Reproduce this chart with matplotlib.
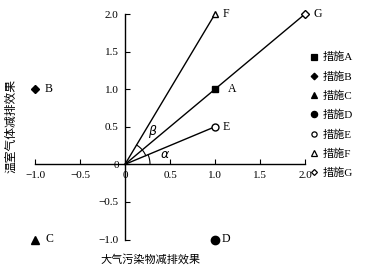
import numpy as np
import matplotlib
matplotlib.use("Agg")
import matplotlib.pyplot as plt
from matplotlib.lines import Line2D

plt.rcParams['font.family'] = ['Liberation Serif', 'Noto Sans CJK SC', 'DejaVu Sans']
plt.rcParams['axes.unicode_minus'] = True

names = ['A', 'B', 'C', 'D', 'E', 'F', 'G']
legend_labels = ['措施A', '措施B', '措施C', '措施D', '措施E', '措施F', '措施G']
x_vals = [1.0, -1.0, -1.0, 1.0, 1.0, 1.0, 2.0]
y_vals = [1.0, 1.0, -1.0, -1.0, 0.5, 2.0, 2.0]
markers = ['s', 'D', '^', 'o', 'o', '^', 'D']
filled = [True, True, True, True, False, False, False]
msizes = [5, 4.5, 6, 6, 5, 5, 4]
label_offsets_px = [(13, 0), (10, 0), (10, 0), (7, 0), (8, 0), (8, 0), (9, 0)]
rays = ['G', 'F', 'E']
xticks = [-1.0, -0.5, 0, 0.5, 1.0, 1.5, 2.0]
yticks = [-1.0, -0.5, 0, 0.5, 1.0, 1.5, 2.0]
tick_labels = ['\u22121.0', '\u22120.5', '0', '0.5', '1.0', '1.5', '2.0']

W, H = 365, 268
fig = plt.figure(figsize=(W / 100, H / 100), dpi=100)
ax_l, ax_r, ax_t, ax_b = 35, 305, 14, 239.5
ax = fig.add_axes([ax_l / W, (H - ax_b) / H, (ax_r - ax_l) / W, (ax_b - ax_t) / H])
ax.set_xlim(-1, 2)
ax.set_ylim(-1, 2)

for s in ['top', 'right']:
    ax.spines[s].set_visible(False)
ax.spines['left'].set_position(('data', 0))
ax.spines['bottom'].set_position(('data', 0))
for s in ['left', 'bottom']:
    ax.spines[s].set_linewidth(1.0)

ax.set_xticks(xticks)
ax.set_xticklabels(tick_labels)
ax.set_yticks(yticks)
ax.set_yticklabels(tick_labels)
ax.tick_params(direction='in', length=3.5, width=0.8, labelsize=8, pad=4.5)

# rays from the origin
for r in rays:
    i = names.index(r)
    ax.plot([0, x_vals[i]], [0, y_vals[i]], color='black', lw=1.0, zorder=2)

# angle arcs (computed in pixel space)
sx = (ax_r - ax_l) / 3.0
sy = (ax_b - ax_t) / 3.0
iE = names.index('E'); iF = names.index('F')
thE = np.arctan2(y_vals[iE] * sy, x_vals[iE] * sx)
thF = np.arctan2(y_vals[iF] * sy, x_vals[iF] * sx)
t = np.linspace(0, thE, 50)
ax.plot(25 * np.cos(t) / sx, 25 * np.sin(t) / sy, color='black', lw=0.8)
t = np.linspace(thE, thF, 50)
ax.plot(22.5 * np.cos(t) / sx, 22.5 * np.sin(t) / sy, color='black', lw=0.8)
ax.text(40 / sx, 9 / sy, r'$\alpha$', fontsize=9, ha='center', va='center')
ax.text(28 / sx, 33 / sy, r'$\beta$', fontsize=9, ha='center', va='center')

handles = []
for n, x, y, m, f, ms, off in zip(names, x_vals, y_vals, markers, filled, msizes, label_offsets_px):
    fc = 'black' if f else 'white'
    ax.plot([x], [y], marker=m, ms=ms, mfc=fc, mec='black', mew=1.0, ls='none',
            zorder=5, clip_on=False)
    ax.annotate(n, (x, y), xytext=(off[0] * 0.72, off[1] * 0.72), textcoords='offset points',
                ha='left', va='center', fontsize=8.5)
    handles.append(Line2D([], [], marker=m, ms=ms * 0.75, mfc=fc, mec='black', mew=0.9, ls='none'))

fig.legend(handles, legend_labels, loc='upper left', bbox_to_anchor=(310 / W, 1 - 52 / H),
           frameon=False, fontsize=8, handlelength=0.8, handletextpad=0.3,
           labelspacing=0.8, borderpad=0, borderaxespad=0)

fig.text(151 / W, 1 - 259 / H, '大气污染物减排效果', fontsize=8, ha='center', va='center')
fig.text(11 / W, 1 - 126 / H, '温室气体减排效果', fontsize=8.5, ha='center', va='center',
         rotation=90)

fig.savefig('out.png', dpi=100)
